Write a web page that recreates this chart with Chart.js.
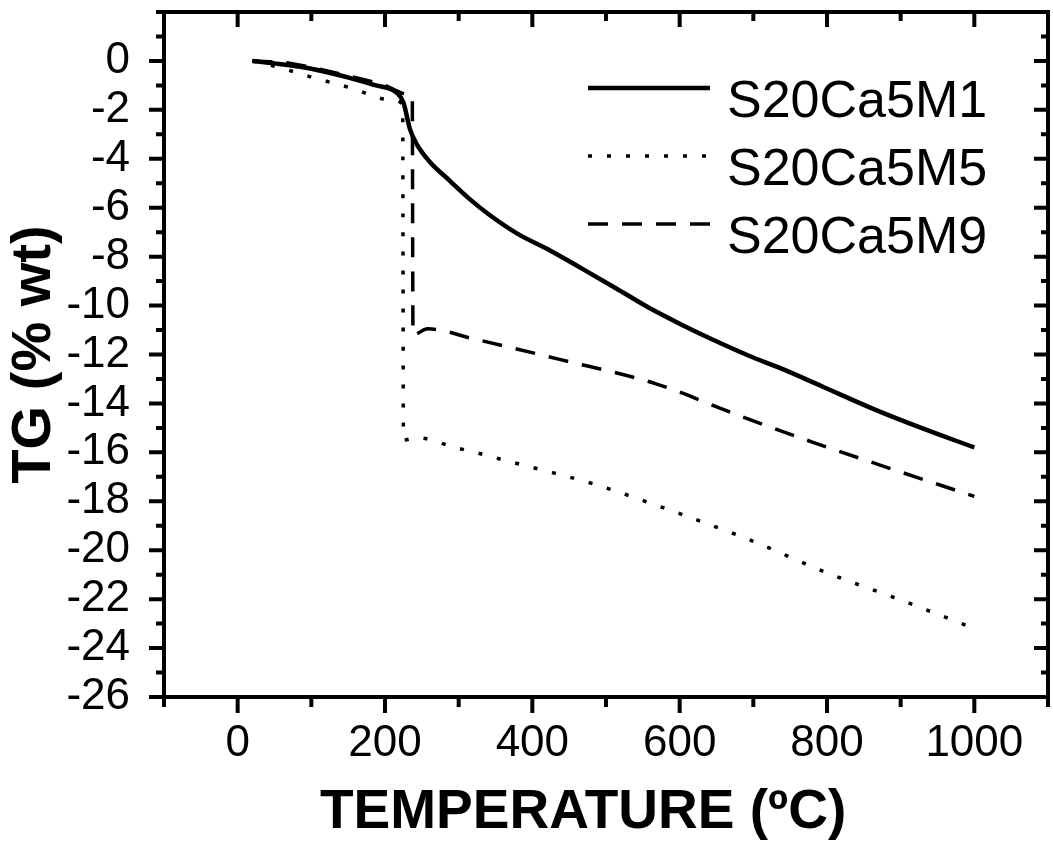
<!DOCTYPE html>
<html>
<head>
<meta charset="utf-8">
<title>TG curves</title>
<script src="https://cdn.jsdelivr.net/npm/chart.js@4.4.0/dist/chart.umd.min.js"></script>
<style>
  html, body { margin: 0; padding: 0; background: #fff; }
</style>
</head>
<body>
<canvas id="myChart" width="1053" height="856"></canvas>
<script>
// thermogravimetric curves, values
const seriesNames = ['S20Ca5M1', 'S20Ca5M5', 'S20Ca5M9'];

const m1Temp = [20, 50, 85, 120, 153, 185, 216, 225, 234, 243, 260, 288, 315, 342, 379, 424, 468, 514, 559, 604, 649, 694, 740, 793, 861, 928, 1000];
const m1TG   = [0, -0.1, -0.24, -0.45, -0.7, -0.98, -1.3, -1.7, -2.8, -3.4, -4.1, -4.9, -5.65, -6.3, -7.05, -7.75, -8.5, -9.3, -10.1, -10.8, -11.45, -12.05, -12.6, -13.3, -14.2, -15.0, -15.8];

const m5Temp = [20, 60, 99, 153, 210, 224, 225, 243, 295, 322, 372, 430, 484, 581, 680, 705, 798, 897, 1000];
const m5TG   = [0, -0.3, -0.65, -1.1, -1.6, -1.8, -15.5, -15.4, -15.8, -16.0, -16.4, -16.85, -17.3, -18.3, -19.4, -19.7, -20.9, -22.0, -23.2];

const m9Temp = [20, 72, 116, 162, 200, 230, 237, 238, 258, 319, 437, 568, 681, 782, 870, 1000];
const m9TG   = [0, -0.1, -0.37, -0.7, -1.0, -1.35, -1.45, -11.2, -10.95, -11.35, -12.2, -13.2, -14.5, -15.6, -16.5, -17.8];

// tick values
const xTickLabels = [0, 200, 400, 600, 800, 1000];
const yTickLabels = [0, -2, -4, -6, -8, -10, -12, -14, -16, -18, -20, -22, -24, -26];
const xMinorTicks = [-100, 0, 100, 200, 300, 400, 500, 600, 700, 800, 900, 1000, 1100];
const yMinorTicks = [2, 1, 0, -1, -2, -3, -4, -5, -6, -7, -8, -9, -10, -11, -12, -13, -14, -15, -16, -17, -18, -19, -20, -21, -22, -23, -24, -25, -26];

const FONT = '"Liberation Sans", Arial, Helvetica, sans-serif';

function toPoints(xs, ys) {
  return xs.map((t, i) => ({x: t, y: ys[i]}));
}

// box around the plot with Origin-style ticks (out on bottom/left, in on top/right)
const frameTicks = {
  id: 'frameTicks',
  afterDatasetsDraw(chart) {
    const ctx = chart.ctx;
    const a = chart.chartArea;
    const xs = chart.scales.x, ys = chart.scales.y;
    ctx.save();
    ctx.strokeStyle = '#000';
    ctx.lineWidth = 4;
    ctx.setLineDash([]);
    ctx.strokeRect(a.left, a.top, a.right - a.left, a.bottom - a.top);
    ctx.beginPath();
    xMinorTicks.forEach(v => {
      const px = xs.getPixelForValue(v);
      const len = xTickLabels.includes(v) ? 16 : 10;
      ctx.moveTo(px, a.bottom); ctx.lineTo(px, a.bottom + len);
      ctx.moveTo(px, a.top); ctx.lineTo(px, a.top + len - 1);
    });
    yMinorTicks.forEach(v => {
      const py = ys.getPixelForValue(v);
      const len = yTickLabels.includes(v) ? 15 : 8;
      ctx.moveTo(a.left, py); ctx.lineTo(a.left - len, py);
      ctx.moveTo(a.right, py); ctx.lineTo(a.right - len + 1, py);
    });
    ctx.stroke();
    ctx.restore();
  }
};

// legend drawn inside the plot, top right
const insideLegend = {
  id: 'insideLegend',
  afterDraw(chart) {
    const ctx = chart.ctx;
    const a = chart.chartArea;
    ctx.save();
    ctx.font = '52px ' + FONT;
    ctx.textBaseline = 'alphabetic';
    ctx.textAlign = 'left';
    chart.data.datasets.forEach((ds, i) => {
      const yLine = a.top + 76 + i * 68;
      ctx.strokeStyle = '#000';
      ctx.lineWidth = ds.borderWidth;
      ctx.lineCap = 'butt';
      ctx.setLineDash(ds.borderDash || []);
      ctx.beginPath();
      ctx.moveTo(a.left + 424, yLine);
      ctx.lineTo(a.left + 546, yLine);
      ctx.stroke();
      ctx.setLineDash([]);
      ctx.fillStyle = '#000';
      ctx.fillText(ds.label, a.left + 563, yLine + 29);
    });
    ctx.restore();
  }
};

const ctx = document.getElementById('myChart').getContext('2d');
const chart = new Chart(ctx, {
  type: 'line',
  data: {
    datasets: [
      {
        label: seriesNames[0],
        data: toPoints(m1Temp, m1TG),
        borderColor: '#000',
        borderWidth: 4.5,
        borderDash: []
      },
      {
        label: seriesNames[1],
        data: toPoints(m5Temp, m5TG),
        borderColor: '#000',
        borderWidth: 3.5,
        borderDash: [4, 15]
      },
      {
        label: seriesNames[2],
        data: toPoints(m9Temp, m9TG),
        borderColor: '#000',
        borderWidth: 3.5,
        borderDash: [20, 14]
      }
    ]
  },
  options: {
    responsive: false,
    animation: false,
    devicePixelRatio: 1,
    elements: {
      point: { radius: 0 },
      line: { cubicInterpolationMode: 'monotone', fill: false, borderJoinStyle: 'round' }
    },
    layout: { padding: { top: 12, right: 5, left: 0, bottom: 0 } },
    plugins: {
      legend: { display: false },
      tooltip: { enabled: false }
    },
    scales: {
      x: {
        type: 'linear',
        min: -100,
        max: 1100,
        grid: { display: false },
        border: { display: false },
        afterBuildTicks: (scale) => { scale.ticks = xTickLabels.map(v => ({value: v})); },
        afterFit: (scale) => {
          scale.height = 159;
          scale.paddingLeft = 0;
          scale.paddingRight = 0;
        },
        ticks: {
          color: '#000',
          padding: 12,
          maxRotation: 0,
          autoSkip: false,
          callback: (v) => String(v),
          font: { family: FONT, size: 44 }
        },
        title: {
          display: true,
          text: 'TEMPERATURE (ºC)\u00a0\u00a0\u00a0',
          color: '#000',
          padding: { top: 0, bottom: 10 },
          font: { family: FONT, size: 55, weight: 'bold' }
        }
      },
      y: {
        type: 'linear',
        min: -26,
        max: 2,
        grid: { display: false },
        border: { display: false },
        afterBuildTicks: (scale) => { scale.ticks = yTickLabels.map(v => ({value: v})); },
        afterFit: (scale) => {
          scale.width = 164;
          scale.paddingTop = 0;
          scale.paddingBottom = 0;
        },
        ticks: {
          color: '#000',
          padding: 26,
          autoSkip: false,
          callback: (v) => String(v),
          font: { family: FONT, size: 44 }
        },
        title: {
          display: true,
          text: 'TG (% wt)',
          color: '#000',
          padding: { top: 1, bottom: 0 },
          font: { family: FONT, size: 56, weight: 'bold' }
        }
      }
    }
  },
  plugins: [frameTicks, insideLegend]
});
</script>
</body>
</html>
